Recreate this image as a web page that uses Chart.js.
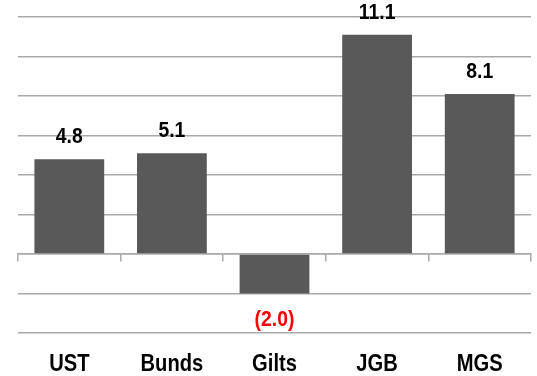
<!DOCTYPE html>
<html>
<head>
<meta charset="utf-8">
<script src="https://cdn.jsdelivr.net/npm/chart.js@4"></script>
<style>
  html, body { margin: 0; padding: 0; background: #fff; }
  #wrap { width: 537px; height: 376px; position: relative; }
</style>
</head>
<body>
<div id="wrap"><canvas id="c" width="537" height="376"></canvas></div>
<script>
const categories = ['UST', 'Bunds', 'Gilts', 'JGB', 'MGS'];
const values = [4.8, 5.1, -2.0, 11.1, 8.1];
const yMin = -4, yMax = 12, yStep = 2;

const FONT = "'Liberation Sans', Arial, sans-serif";

function fmt(v) {
  return v < 0 ? '(' + Math.abs(v).toFixed(1) + ')' : v.toFixed(1);
}

// draw condensed bold text centred at (x, y)
function narrowText(ctx, text, x, y, size, squeeze, color) {
  ctx.save();
  ctx.font = 'bold ' + size + 'px ' + FONT;
  ctx.textAlign = 'center';
  ctx.textBaseline = 'middle';
  ctx.fillStyle = color;
  ctx.translate(x, y);
  ctx.scale(squeeze, 1);
  ctx.fillText(text, 0, 0);
  ctx.restore();
}

// value labels above positive bars, below negative ones (red, in parentheses),
// and category names under the plot
const textLayer = {
  id: 'textLayer',
  afterDatasetsDraw(chart) {
    const ctx = chart.ctx;
    const meta = chart.getDatasetMeta(0);
    meta.data.forEach((bar, i) => {
      const v = values[i];
      if (v >= 0) {
        narrowText(ctx, fmt(v), bar.x, bar.y - 22, 22, 0.88, '#000');
      } else {
        narrowText(ctx, fmt(v), bar.x, bar.y + 26, 22, 0.88, '#ff0000');
      }
      narrowText(ctx, categories[i], bar.x, chart.chartArea.bottom + 31, 24, 0.84, '#000');
    });
  }
};

new Chart(document.getElementById('c'), {
  type: 'bar',
  data: {
    labels: categories,
    datasets: [{
      data: values,
      backgroundColor: '#595959',
      borderWidth: 0,
      categoryPercentage: 0.68,
      barPercentage: 1.0,
      xAxisID: 'x'
    }]
  },
  options: {
    responsive: false,
    animation: false,
    events: [],
    layout: { padding: { left: 18, right: 6, top: 17, bottom: 43 } },
    plugins: { legend: { display: false }, tooltip: { enabled: false } },
    scales: {
      y: {
        min: yMin, max: yMax,
        ticks: { stepSize: yStep, display: false },
        grid: { color: '#a9a9a9', lineWidth: 1.5, drawTicks: false },
        border: { display: false }
      },
      // axis line at zero with tick marks between categories
      x: {
        position: { y: 0 },
        offset: true,
        ticks: { display: false },
        grid: { offset: true, drawOnChartArea: false, drawTicks: true, tickLength: 7, color: '#a9a9a9', lineWidth: 1.5 },
        border: { display: true, color: '#a9a9a9', width: 1.5 }
      }
    }
  },
  plugins: [textLayer]
});
</script>
</body>
</html>
